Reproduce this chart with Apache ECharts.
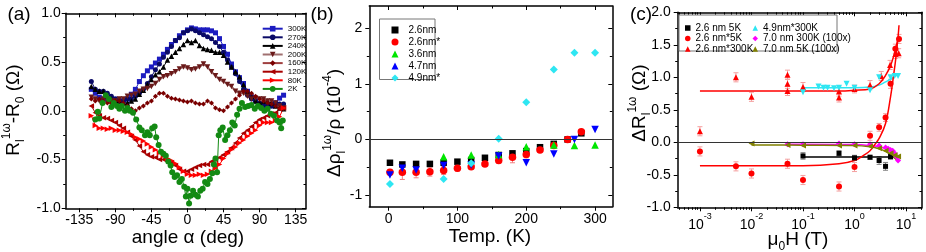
<!DOCTYPE html>
<html><head><meta charset="utf-8">
<script src="https://cdn.jsdelivr.net/npm/echarts@6/dist/echarts.min.js"></script>
<style>html,body{margin:0;padding:0;background:#fff}#c{width:926px;height:252px}</style>
</head><body><div id="c"></div>
<script>
// ---------- Panel (a) data ----------
const aAngles = [-120,-115,-110,-105,-100,-95,-90,-85,-80,-75,-70,-65,-60,-55,-50,-45,-40,-35,-30,-25,-20,-15,-10,-5,0,5,10,15,20,25,30,35,40,45,50,55,60,65,70,75,80,85,90,95,100,105,110,115,120];
const a300K = [0.22,0.18,0.14,0.12,0.12,0.12,0.12,0.1,0.1,0.12,0.17,0.22,0.3,0.36,0.41,0.45,0.49,0.53,0.58,0.63,0.68,0.72,0.77,0.8,0.83,0.85,0.84,0.83,0.83,0.83,0.82,0.8,0.74,0.66,0.58,0.48,0.4,0.34,0.28,0.2,0.14,0.1,0.06,0.03,0.02,0.05,0.08,0.13,0.16];
const a270K = [0.3,0.22,0.2,0.2,0.18,0.15,0.12,0.1,0.1,0.12,0.12,0.15,0.18,0.22,0.28,0.35,0.42,0.48,0.55,0.6,0.66,0.72,0.75,0.8,0.82,0.84,0.82,0.8,0.78,0.76,0.74,0.7,0.66,0.6,0.52,0.45,0.38,0.3,0.22,0.16,0.12,0.1,0.08,0.06,0.05,0.05,0.08,0.07,0.07];
const a240K = [0.25,0.22,0.2,0.2,0.15,0.12,0.1,0.1,0.08,0.08,0.1,0.12,0.17,0.21,0.27,0.32,0.37,0.4,0.45,0.52,0.56,0.6,0.64,0.68,0.72,0.7,0.72,0.67,0.64,0.63,0.62,0.6,0.6,0.57,0.5,0.45,0.4,0.35,0.27,0.2,0.15,0.1,0.08,0.1,0.1,0.08,0.05,0.03,0.02];
const a200K = [0.14,0.12,0.1,0.12,0.1,0.1,0.1,0.12,0.12,0.15,0.16,0.17,0.2,0.22,0.23,0.25,0.28,0.32,0.35,0.36,0.38,0.4,0.43,0.45,0.44,0.42,0.43,0.45,0.48,0.45,0.4,0.36,0.32,0.3,0.27,0.25,0.2,0.18,0.18,0.15,0.12,0.13,0.12,0.12,0.1,0.1,0.08,0.05,0.03];
const a160K = [0.12,0.1,0.12,0.1,0.08,0.08,0.1,0.1,0.08,0.05,0.02,0.0,0.03,0.05,0.08,0.1,0.15,0.18,0.18,0.15,0.13,0.12,0.11,0.1,0.09,0.1,0.08,0.07,0.07,0.1,0.08,0.03,0.01,0.0,0.04,0.08,0.12,0.16,0.2,0.2,0.18,0.15,0.12,0.1,0.08,0.07,0.05,0.03,0.02];
const a120K = [0.05,-0.02,-0.05,-0.07,-0.08,-0.1,-0.12,-0.15,-0.18,-0.22,-0.26,-0.3,-0.36,-0.42,-0.45,-0.47,-0.48,-0.5,-0.5,-0.52,-0.53,-0.56,-0.6,-0.62,-0.62,-0.6,-0.58,-0.56,-0.55,-0.55,-0.52,-0.5,-0.48,-0.45,-0.42,-0.38,-0.33,-0.28,-0.23,-0.2,-0.16,-0.12,-0.09,-0.07,-0.05,-0.03,-0.02,0.02,0.03];
const a80K = [-0.05,-0.15,-0.18,-0.18,-0.19,-0.18,-0.2,-0.2,-0.21,-0.22,-0.24,-0.27,-0.29,-0.31,-0.34,-0.37,-0.4,-0.43,-0.46,-0.49,-0.51,-0.54,-0.58,-0.62,-0.65,-0.66,-0.66,-0.65,-0.66,-0.65,-0.62,-0.59,-0.55,-0.49,-0.44,-0.4,-0.37,-0.33,-0.3,-0.26,-0.23,-0.2,-0.15,-0.12,-0.12,-0.12,-0.1,-0.06,0.03];
const a2KAngles = [-115,-112,-110,-106,-102,-98,-95,-92,-88,-85,-82,-78,-75,-72,-68,-64,-60,-57,-53,-50,-47,-44,-41,-39,-36,-33,-30,-27,-24,-21,-19,-16,-13,-10,-7,-4,-2,0,2,4,7,10,13,16,19,22,25,28,31,33,35,37,39,41,44,47,50,53,56,59,62,65,68,72,76,80,84,88,92,96,100,104,108,112,115,117,119];
const a2K = [-0.09,-0.01,-0.08,0.08,0.16,0.12,0.04,0.08,0.05,0.02,0.05,0.0,0.03,0.0,-0.02,-0.09,-0.17,-0.2,-0.25,-0.22,-0.25,-0.18,-0.16,-0.27,-0.35,-0.42,-0.44,-0.46,-0.52,-0.56,-0.63,-0.68,-0.66,-0.73,-0.7,-0.78,-0.88,-0.8,-0.95,-0.87,-0.82,-0.86,-0.88,-0.82,-0.8,-0.73,-0.75,-0.7,-0.64,-0.55,-0.49,-0.63,-0.25,-0.2,-0.17,-0.3,-0.25,-0.2,-0.12,-0.15,-0.04,0.02,0.08,0.04,0.05,0.06,0.02,0.05,0.03,0.0,0.02,-0.03,-0.05,-0.1,-0.12,-0.18,-0.1];
const aXTicks = [-135,-90,-45,0,45,90,135];
const aXMinor = [-112.5,-67.5,-22.5,22.5,67.5,112.5];
const aYTicks = [-1,-0.5,0,0.5,1];
const aYMinor = [-0.75,-0.25,0.25,0.75];

// ---------- Panel (b) data ----------
const bT = [2,20,40,60,80,100,120,140,160,180,200,220,240,260,280];
const b26 = [-0.42,-0.45,-0.44,-0.44,-0.42,-0.40,-0.37,-0.33,-0.28,-0.25,-0.21,-0.14,-0.08,0.0,0.11];
const b26s = [-0.59,-0.59,-0.59,-0.58,-0.56,-0.52,-0.49,-0.44,-0.38,-0.32,-0.27,-0.19,-0.11,0.0,0.14];
const b26sErr = [0.05,0.13,0.1,0.08,0.07,0.05,0.05,0.04,0.05,0.1,0.06,0.04,0.04,0.03,0.03];
const b36T = [80,120,160,200,240,270,300];
const b36 = [-0.31,-0.28,-0.27,-0.13,-0.1,-0.11,-0.1];
const b47T = [2,20,40,80,120,160,200,240,270,300];
const b47 = [-0.64,-0.52,-0.55,-0.47,-0.46,-0.30,-0.42,-0.26,0.0,0.18];
const b49T = [2,80,120,160,200,240,270,300];
const b49 = [-0.80,-0.71,-0.43,0.01,0.67,1.26,1.56,1.56];
const bXTicks = [0,100,200,300];
const bXMinor = [50,150,250];
const bYTicks = [-1,0,1,2];
const bYMinor = [-0.5,0.5,1.5];

// ---------- Panel (c) data ----------
const c26_5K_H = [0.1,0.5,1,2,3,4,5];
const c26_5K = [-0.21,-0.17,-0.24,-0.23,-0.28,-0.37,-0.22];
const c26_5K_err = [0.05,0.04,0.04,0.03,0.06,0.06,0.04];
const c26s5K_H = [0.001,0.005,0.01,0.05,0.1,0.5,1,2,3,4,5,6.2,7.3];
const c26s5K = [-0.14,-0.37,-0.48,-0.33,-0.58,-0.68,-0.38,0.1,0.23,0.38,0.9,1.44,1.59];
const c26s5K_err = [0.07,0.07,0.07,0.07,0.07,0.07,0.07,0.07,0.06,0.06,0.07,0.07,0.07];
const c26s300K_H = [0.001,0.005,0.01,0.05,0.05,0.05,0.1,0.5,0.5,1,2,3.3,4.9,6.2,7.2];
const c26s300K = [0.17,1.0,0.7,1.04,0.9,0.79,0.85,0.78,0.69,0.82,0.88,1.02,1.19,1.36,1.37];
const c26s300K_err = [0.07,0.07,0.07,0.07,0.07,0.07,0.07,0.07,0.07,0.06,0.07,0.07,0.07,0.07,0.07];
const c49_H = [0.1,0.2,0.25,0.3,0.4,0.5,0.7,1,2,3,5,6,7];
const c49 = [0.77,0.86,0.84,0.84,0.83,0.84,0.9,0.84,0.8,1.0,1.0,1.02,1.02];
const c70_300K_H = [0.05,0.1,0.5,1,2,3,4,4.5,5,5.5,6,6.5,7];
const c70_300K = [-0.03,-0.03,-0.02,-0.03,-0.03,-0.05,-0.08,-0.1,-0.12,-0.13,-0.17,-0.22,-0.28];
const c70_5K_H = [0.01,0.05,0.1,0.5,1,2,3,4,5,6,7];
const c70_5K = [-0.02,-0.04,-0.05,-0.05,-0.05,-0.06,-0.09,-0.13,-0.17,-0.2,-0.22];
// fit curves
const cFit5K_H = [0.001,0.1,0.5,1,1.5,2,2.5,3,4,5,5.8,6.3,7,7.3];
const cFit5K = [-0.36,-0.36,-0.33,-0.28,-0.2,-0.13,-0.03,0.06,0.29,0.7,1.06,1.28,1.62,1.8];
const cFit300K_H = [0.001,0.5,1,2,3,4,5,6,7];
const cFit300K = [0.79,0.79,0.8,0.82,0.9,1.03,1.18,1.38,1.6];
const cFit49_H = [0.1,1,2,3,4,5,6,7];
const cFit49 = [0.84,0.84,0.85,0.88,0.93,0.97,1.01,1.05];
const cFitBlk_H = [0.1,5,6,7];
const cFitBlk = [-0.225,-0.225,-0.235,-0.25];
const cFit70_5K_H = [0.01,0.1,1,2,3,4,5,6,7];
const cFit70_5K = [-0.04,-0.045,-0.05,-0.07,-0.1,-0.14,-0.19,-0.24,-0.29];
const cFit70_300K_H = [0.05,1,2,3,4,5,6,7];
const cFit70_300K = [-0.03,-0.035,-0.05,-0.07,-0.1,-0.14,-0.2,-0.27];
const cXTicks = [0.001,0.01,0.1,1,10];
const cXMinor = [];
[1e-4,1e-3,1e-2,1e-1,1,10].forEach(d => { for (let k = 2; k <= 9; k++) cXMinor.push(+(k*d).toPrecision(3)); });
const cYTicks = [-1,-0.5,0,0.5,1,1.5,2];
const cYMinor = [-0.75,-0.25,0.25,0.75,1.25,1.75];

// ---------- helpers ----------
const FONT = '"Liberation Sans", Arial, Helvetica, sans-serif';
const AXL = {color:'#000', width:1.5};
const TKL = {color:'#000', width:1};
const zip = (xs, ys) => xs.map((x,i) => [x, ys[i]]);
const AI = g => 4 * g;   // main axis index of grid g

function mkX(g, type, min, max, majors, minors, fmt, rich) {
  const base = {gridIndex:g, type:type, min:min, max:max, splitLine:{show:false}, silent:true};
  if (type === 'log') base.logBase = 10;
  return [
    Object.assign({}, base, {position:'bottom', axisLine:{show:true,onZero:false,lineStyle:AXL}, axisTick:{show:true,inside:false,length:4,customValues:majors,lineStyle:TKL}, axisLabel:{show:true,customValues:majors,formatter:fmt,color:'#000',fontSize:14,fontFamily:FONT,margin:5,rich:rich}}),
    Object.assign({}, base, {position:'bottom', axisLine:{show:false,onZero:false}, axisTick:{show:true,inside:false,length:2.5,customValues:minors,lineStyle:TKL}, axisLabel:{show:false}}),
    Object.assign({}, base, {position:'top', axisLine:{show:true,onZero:false,lineStyle:AXL}, axisTick:{show:true,inside:true,length:4,customValues:majors,lineStyle:TKL}, axisLabel:{show:false}}),
    Object.assign({}, base, {position:'top', axisLine:{show:false,onZero:false}, axisTick:{show:true,inside:true,length:2.5,customValues:minors,lineStyle:TKL}, axisLabel:{show:false}})
  ];
}
function mkY(g, min, max, majors, minors, fmt, margin) {
  const base = {gridIndex:g, type:'value', min:min, max:max, splitLine:{show:false}, silent:true};
  return [
    Object.assign({}, base, {position:'left', axisLine:{show:true,onZero:false,lineStyle:AXL}, axisTick:{show:true,inside:false,length:4,customValues:majors,lineStyle:TKL}, axisLabel:{show:true,customValues:majors,formatter:fmt,color:'#000',fontSize:14,fontFamily:FONT,margin:margin}}),
    Object.assign({}, base, {position:'left', axisLine:{show:false,onZero:false}, axisTick:{show:true,inside:false,length:2.5,customValues:minors,lineStyle:TKL}, axisLabel:{show:false}}),
    Object.assign({}, base, {position:'right', axisLine:{show:true,onZero:false,lineStyle:AXL}, axisTick:{show:true,inside:true,length:4,customValues:majors,lineStyle:TKL}, axisLabel:{show:false}}),
    Object.assign({}, base, {position:'right', axisLine:{show:false,onZero:false}, axisTick:{show:true,inside:true,length:2.5,customValues:minors,lineStyle:TKL}, axisLabel:{show:false}})
  ];
}
function errSeries(g, xs, ys, es, color) {
  return {type:'custom', xAxisIndex:AI(g), yAxisIndex:AI(g), silent:true, z:1,
    data: xs.map((x,i) => [x, ys[i], es[i]]), encode:{x:0, y:1},
    renderItem: function (params, api) {
      const x = api.value(0), y = api.value(1), e = api.value(2);
      const p1 = api.coord([x, y + e]), p2 = api.coord([x, y - e]);
      const w = 2.5, st = {stroke:color, lineWidth:1};
      return {type:'group', children:[
        {type:'line', shape:{x1:p1[0],y1:p1[1],x2:p2[0],y2:p2[1]}, style:st},
        {type:'line', shape:{x1:p1[0]-w,y1:p1[1],x2:p1[0]+w,y2:p1[1]}, style:st},
        {type:'line', shape:{x1:p2[0]-w,y1:p2[1],x2:p2[0]+w,y2:p2[1]}, style:st}
      ]};
    }};
}
function lineA(name, xs, ys, color, lineColor, symbol, size, rot, lw) {
  return {name:name, type:'line', xAxisIndex:0, yAxisIndex:0, data:zip(xs, ys),
    symbol:symbol, symbolSize:size, symbolRotate:rot, showAllSymbol:true,
    lineStyle:{color:lineColor, width:lw}, itemStyle:{color:color}};
}
function scat(name, g, xs, ys, color, symbol, size, rot) {
  return {name:name, type:'scatter', xAxisIndex:AI(g), yAxisIndex:AI(g), data:zip(xs, ys),
    symbol:symbol, symbolSize:size, symbolRotate:rot||0, itemStyle:{color:color, opacity:1}, z:3};
}
function fit(g, xs, ys, color) {
  return {type:'line', xAxisIndex:AI(g), yAxisIndex:AI(g), data:zip(xs, ys), smooth:0.4,
    showSymbol:false, symbol:'none', lineStyle:{color:color, width:1.5}, z:2, silent:true};
}
const zeroLine = {silent:true, symbol:['none','none'], label:{show:false},
  lineStyle:{color:'#333', width:1, type:'solid'}, data:[{yAxis:0}]};

// ---------- axes ----------
const xAxes = [].concat(
  mkX(0, 'value', -152, 148, aXTicks, aXMinor, v => String(v)),
  mkX(1, 'value', -28, 325, bXTicks, bXMinor, v => String(v)),
  mkX(2, 'log', 3.7e-4, 20.4, cXTicks, cXMinor,
      v => '{b|10}{s|' + Math.round(Math.log10(v)) + '}',
      {b:{fontSize:14, fontFamily:FONT, color:'#000', lineHeight:20, verticalAlign:'bottom'},
       s:{fontSize:9, fontFamily:FONT, color:'#000', lineHeight:12, verticalAlign:'top'}})
);
const yAxes = [].concat(
  mkY(0, -1, 1, aYTicks, aYMinor, v => v.toFixed(1), 5),
  mkY(1, -1.21, 2.4, bYTicks, bYMinor, v => String(v), 7),
  mkY(2, -1, 2, cYTicks, cYMinor, v => v.toFixed(1), 7)
);

// ---------- series ----------
const series = [
  lineA('300K', aAngles, a300K, '#1C1CC0', '#1C1CC0', 'rect', 5, 0, 1),
  lineA('270K', aAngles, a270K, '#0A0A66', '#0A0A66', 'circle', 5, 0, 1),
  lineA('240K', aAngles, a240K, '#000000', '#000000', 'triangle', 5.5, 0, 1),
  lineA('200K', aAngles, a200K, '#6A1A1A', '#A07070', 'triangle', 5.5, 180, 2),
  lineA('160K', aAngles, a160K, '#7A0000', '#A04040', 'diamond', 5, 0, 1),
  lineA('120K', aAngles, a120K, '#A80000', '#A80000', 'triangle', 5.5, 90, 1),
  lineA('80K', aAngles, a80K, '#FF0000', '#FF0000', 'triangle', 5.5, -90, 1),
  lineA('2K', a2KAngles, a2K, '#138A13', '#138A13', 'circle', 6, 0, 1),

  Object.assign(scat('2.6nm', 1, bT, b26, '#000000', 'rect', 6.5), {markLine: zeroLine}),
  errSeries(1, bT, b26s, b26sErr, '#F08080'),
  scat('2.6nm*', 1, bT, b26s, '#FF0000', 'circle', 7.5),
  scat('3.6nm', 1, b36T, b36, '#00E600', 'triangle', 7.5),
  scat('4.7nm', 1, b47T, b47, '#0000FF', 'triangle', 7.5, 180),
  scat('4.9nm*', 1, b49T, b49, '#2EE6F2', 'diamond', 8),

  Object.assign(fit(2, cFitBlk_H, cFitBlk, '#000000'), {markLine: zeroLine}),
  fit(2, cFit49_H, cFit49, '#2EE6F2'),
  fit(2, cFit70_300K_H, cFit70_300K, '#FF00FF'),
  fit(2, cFit70_5K_H, cFit70_5K, '#808000'),
  fit(2, cFit300K_H, cFit300K, '#FF0000'),
  fit(2, cFit5K_H, cFit5K, '#FF0000'),
  errSeries(2, c26_5K_H, c26_5K, c26_5K_err, '#808080'),
  errSeries(2, c26s5K_H, c26s5K, c26s5K_err, '#F4A0A0'),
  errSeries(2, c26s300K_H, c26s300K, c26s300K_err, '#F4A0A0'),
  scat('2.6 nm 5K', 2, c26_5K_H, c26_5K, '#000000', 'rect', 5),
  scat('2.6 nm*5K', 2, c26s5K_H, c26s5K, '#FF0000', 'circle', 6),
  scat('2.6 nm*300K', 2, c26s300K_H, c26s300K, '#FF0000', 'triangle', 6),
  scat('4.9nm*300K', 2, c49_H, c49, '#2EE6F2', 'triangle', 6, 180),
  scat('7.0 nm 300K (100x)', 2, c70_300K_H, c70_300K, '#FF00FF', 'diamond', 6),
  scat('7.0 nm 5K (100x)', 2, c70_5K_H, c70_5K, '#808000', 'triangle', 6, 90)
];

// ---------- text ----------
const RICH = {
  n:{fontSize:19, fontFamily:FONT, fill:'#000', color:'#000', lineHeight:26},
  p:{fontSize:12, fontFamily:FONT, fill:'#000', color:'#000', lineHeight:12, verticalAlign:'top'},
  b:{fontSize:12, fontFamily:FONT, fill:'#000', color:'#000', lineHeight:12, verticalAlign:'bottom'}
};
function txt(x, y, text, rot, size) {
  return {type:'text', x:x, y:y, rotation:rot||0, z:10, silent:true,
    style:{text:text, rich:RICH, fontSize:size||19, fontFamily:FONT, fill:'#000', align:'center', verticalAlign:'middle'}};
}
const graphics = [
  txt(19, 15, '(a)', 0, 19),
  txt(322, 15, '(b)', 0, 19),
  txt(641, 15, '(c)', 0, 19),
  txt(14, 110, '{n|R}{b|l}{p|1ω}{n|-R}{b|0}{n| (Ω)}', Math.PI/2),
  txt(188, 238, '{n|angle α (deg)}', 0),
  txt(335, 123, '{n|Δρ}{b|l}{p|1ω}{n|/ρ (10}{p|-4}{n|)}', Math.PI/2),
  txt(490, 237, '{n|Temp. (K)}', 0),
  txt(640, 103, '{n|ΔR}{b|l}{p|1ω}{n| (Ω)}', Math.PI/2),
  txt(798, 240, '{n|μ}{b|0}{n|H (T)}', 0),
  {type:'rect', z:3, silent:true, shape:{x:379.5, y:19, width:55.5, height:60.5}, style:{fill:'#fff', stroke:'#777', lineWidth:1}},
  {type:'rect', z:3, silent:true, shape:{x:679, y:15, width:158, height:36}, style:{fill:'#fff', stroke:'#777', lineWidth:1}}
];

const legTxt = (sz, lh) => ({fontSize:sz, fontFamily:FONT, color:'#000', lineHeight:lh});
const option = {
  animation:false,
  backgroundColor:'#fff',
  textStyle:{fontFamily:FONT},
  grid:[
    {left:65.7, top:13.3, width:240.3, height:195},
    {left:369.3, top:6, width:243, height:200.7},
    {left:677.7, top:12.3, width:244.3, height:195}
  ],
  xAxis: xAxes,
  yAxis: yAxes,
  legend:[
    {z:5, left:256.7, top:19.7, orient:'vertical', itemWidth:20, itemHeight:7, itemGap:0.6, selectedMode:false,
     textStyle:legTxt(8, 8), data:['300K','270K','240K','200K','160K','120K','80K','2K']},
    {z:5, left:386.5, top:20, orient:'vertical', itemWidth:7, itemHeight:7, itemGap:2, selectedMode:false,
     textStyle:Object.assign(legTxt(10, 10), {padding:[0,0,0,5]}), data:['2.6nm','2.6nm*','3.6nm','4.7nm','4.9nm*']},
    {z:5, left:680, top:18, orient:'vertical', itemWidth:5.5, itemHeight:5.5, itemGap:0.5, selectedMode:false,
     textStyle:legTxt(10, 10), data:['2.6 nm 5K','2.6 nm*5K','2.6 nm*300K']},
    {z:5, left:747.5, top:18, orient:'vertical', itemWidth:5.5, itemHeight:5.5, itemGap:0.5, selectedMode:false,
     textStyle:legTxt(10, 10), data:['4.9nm*300K','7.0 nm 300K (100x)','7.0 nm 5K (100x)']}
  ],
  graphic: graphics,
  series: series
};
const chart = echarts.init(document.getElementById('c'), null, {renderer:'canvas'});
chart.setOption(option);
</script></body></html>
